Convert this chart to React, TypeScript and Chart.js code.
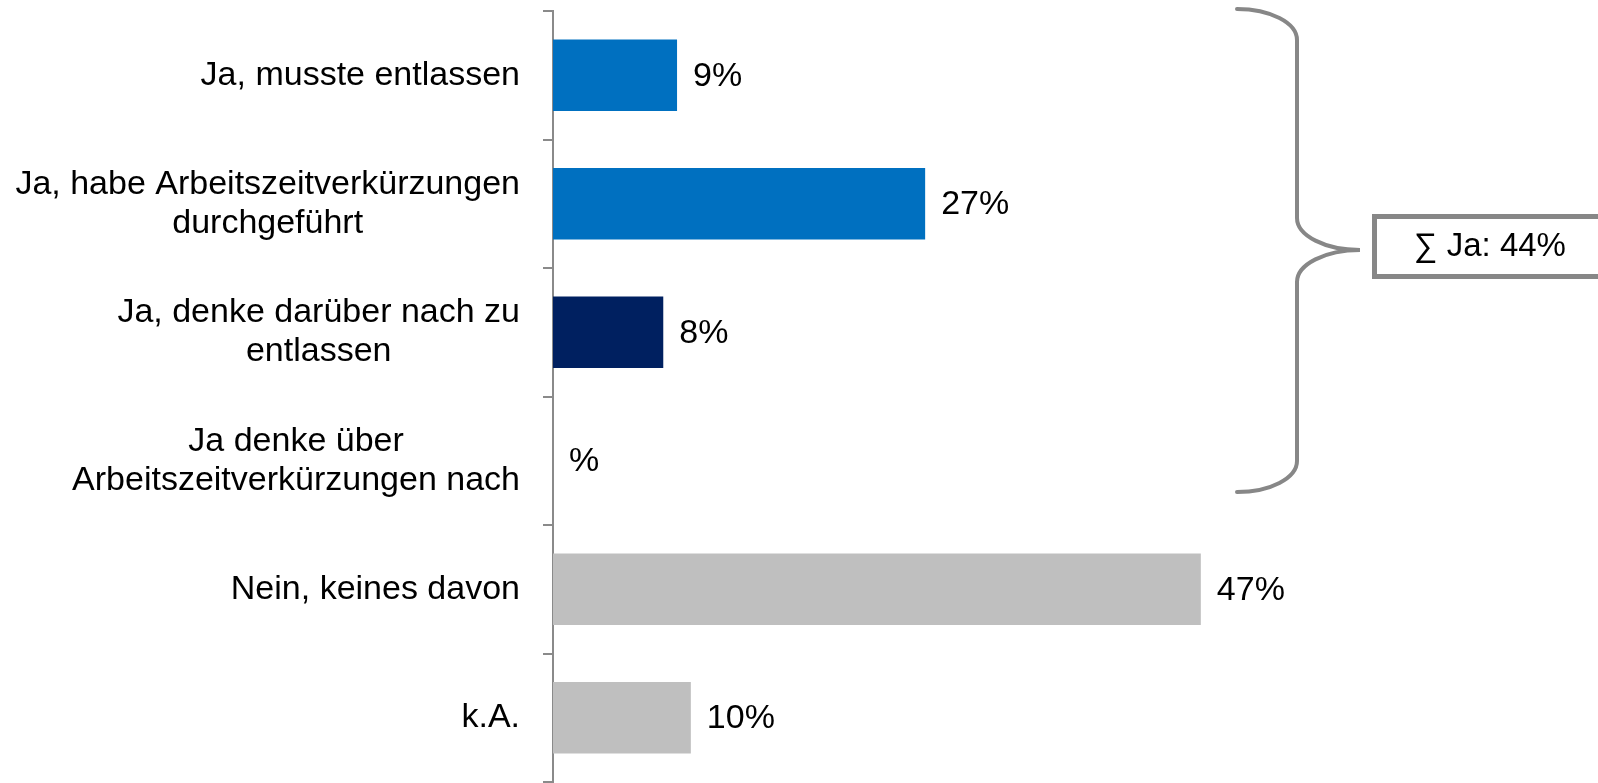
import React, { useEffect, useRef } from 'react';
import { Chart, registerables } from 'chart.js';

Chart.register(...registerables);

const categories: string[][] = [
  ['Ja, musste entlassen'],
  ['Ja, habe Arbeitszeitverkürzungen', 'durchgeführt'],
  ['Ja, denke darüber nach zu', 'entlassen'],
  ['Ja denke über', 'Arbeitszeitverkürzungen nach'],
  ['Nein, keines davon'],
  ['k.A.'],
];
const values: (number | null)[] = [9, 27, 8, null, 47, 10];
const barColors: string[] = ['#0070C0', '#0070C0', '#002060', '#0070C0', '#BFBFBF', '#BFBFBF'];
const summaryLabel = '∑ Ja: 44%';
const xMax = 60;

const FONT = '34px "Liberation Sans", Arial, Helvetica, sans-serif';
const AXIS_GRAY = '#8a8a8a';
const BRACE_GRAY = '#878787';

const decorPlugin = {
  id: 'decor',
  afterDraw(chart: any) {
    const ctx = chart.ctx as CanvasRenderingContext2D;
    const ys = chart.scales.y;
    const xs = chart.scales.x;
    const area = chart.chartArea;
    ctx.save();
    ctx.font = FONT;
    ctx.fillStyle = '#000000';
    ctx.textBaseline = 'middle';

    // category labels: block right-aligned, lines centered within block
    const lineH = 39;
    const rightEdge = area.left - 33;
    categories.forEach((lines, i) => {
      const cy = ys.getPixelForValue(i);
      const w = Math.max(...lines.map((l) => ctx.measureText(l).width));
      const cx = rightEdge - w / 2;
      ctx.textAlign = 'center';
      const startY = cy - ((lines.length - 1) * lineH) / 2;
      lines.forEach((l, k) => ctx.fillText(l, cx, startY + k * lineH));
    });

    // value labels
    ctx.textAlign = 'left';
    values.forEach((v, i) => {
      const cy = ys.getPixelForValue(i);
      const x = xs.getPixelForValue(v ?? 0) + 16;
      ctx.fillText(`${v ?? ''}%`, x, cy + 1);
    });

    // curly brace
    ctx.strokeStyle = BRACE_GRAY;
    ctx.lineWidth = 4;
    ctx.lineCap = 'round';
    const xl = 1237, xv = 1297, xt = 1360;
    const top = 9, bot = 492, mid = 250;
    ctx.beginPath();
    ctx.ellipse(xl, top + 31, xv - xl, 31, 0, -Math.PI / 2, 0, false);
    ctx.lineTo(xv, mid - 32);
    ctx.ellipse(xt, mid - 32, xt - xv, 32, 0, Math.PI, Math.PI / 2, true);
    ctx.ellipse(xt, mid + 32, xt - xv, 32, 0, -Math.PI / 2, -Math.PI, true);
    ctx.lineTo(xv, bot - 31);
    ctx.ellipse(xl, bot - 31, xv - xl, 31, 0, 0, Math.PI / 2, false);
    ctx.stroke();

    // summary box
    ctx.lineWidth = 5;
    ctx.lineCap = 'butt';
    ctx.strokeStyle = BRACE_GRAY;
    ctx.strokeRect(1374.5, 216.5, 300, 60);
    ctx.fillStyle = '#000000';
    ctx.textAlign = 'left';
    ctx.font = '33px "Liberation Sans", Arial, Helvetica, sans-serif';
    ctx.fillText(summaryLabel, 1414, 247);
    ctx.restore();
  },
};

export default function App() {
  const ref = useRef<HTMLCanvasElement | null>(null);
  useEffect(() => {
    if (!ref.current) return;
    const chart = new Chart(ref.current, {
      type: 'bar',
      data: {
        labels: categories.map((c) => c.join(' ')),
        datasets: [
          {
            data: values as any,
            backgroundColor: barColors,
            borderWidth: 0,
            barPercentage: 0.555,
            categoryPercentage: 1,
          },
        ],
      },
      options: {
        indexAxis: 'y',
        animation: false,
        responsive: false,
        devicePixelRatio: 1,
        layout: { padding: { left: 0, top: 11, bottom: 1, right: 218 } },
        plugins: {
          legend: { display: false },
          tooltip: { enabled: false },
        },
        scales: {
          x: { display: false, min: 0, max: xMax },
          y: {
            offset: true,
            ticks: { display: false },
            grid: {
              offset: true,
              drawOnChartArea: false,
              drawTicks: true,
              tickLength: 10,
              color: AXIS_GRAY,
              lineWidth: 2,
            },
            border: { display: true, color: AXIS_GRAY, width: 2 },
            afterFit: (s: any) => {
              s.width = 553;
            },
          },
        },
      },
      plugins: [decorPlugin],
    });
    return () => chart.destroy();
  }, []);
  return (
    <div style={{ position: 'absolute', left: 0, top: 0, width: 1598, height: 783 }}>
      <canvas ref={ref} width={1598} height={783} style={{ display: 'block' }} />
    </div>
  );
}
